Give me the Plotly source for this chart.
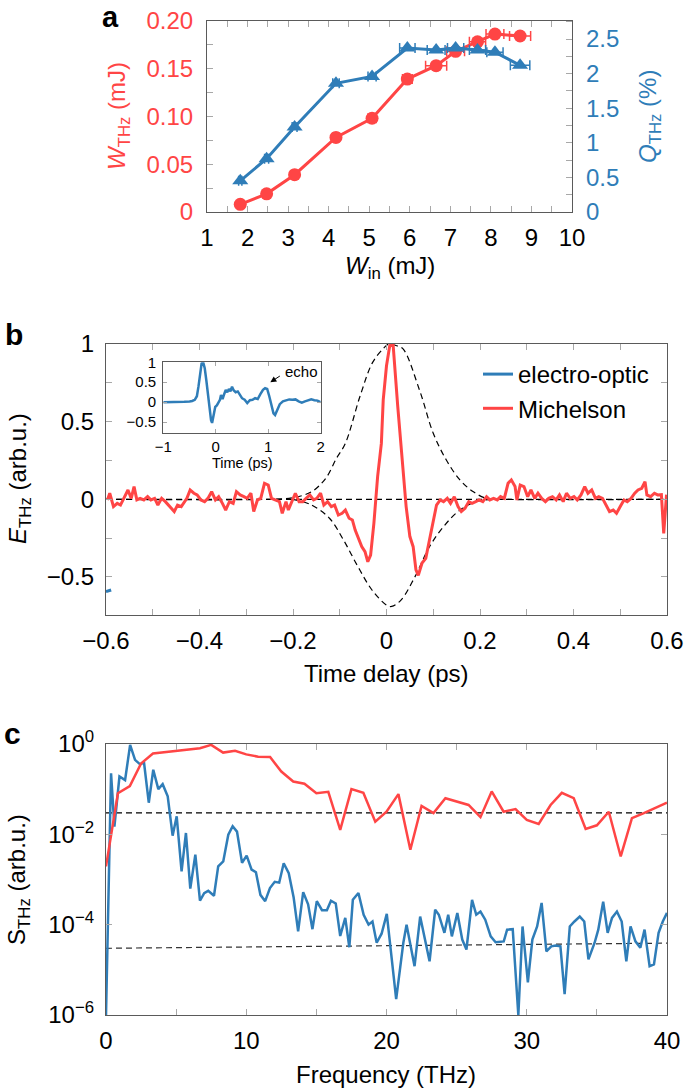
import plotly.graph_objects as go

# ---------------- Panel a data ----------------
W_in = [1.82, 2.47, 3.16, 4.18, 5.07, 5.94, 6.65, 7.13, 7.67, 8.10, 8.72]
W_thz = [0.008, 0.019, 0.039, 0.078, 0.098, 0.139, 0.153, 0.168, 0.178, 0.186, 0.184]
Q_thz = [0.45, 0.77, 1.23, 1.86, 1.96, 2.37, 2.34, 2.37, 2.34, 2.31, 2.12]
W_in_err_red = [0.04, 0.05, 0.06, 0.08, 0.10, 0.12, 0.26, 0.22, 0.20, 0.22, 0.26]
W_in_err_blue = [0.04, 0.05, 0.06, 0.08, 0.10, 0.19, 0.22, 0.20, 0.20, 0.20, 0.24]

# ---------------- Panel b data ----------------
t_mich = [-0.597, -0.592, -0.584, -0.576, -0.569, -0.561, -0.553, -0.546, -0.540, -0.534,
          -0.527, -0.519, -0.511, -0.504, -0.496, -0.489, -0.481, -0.473, -0.466, -0.454,
          -0.447, -0.439, -0.427, -0.420, -0.412, -0.405, -0.397, -0.389, -0.382, -0.374,
          -0.366, -0.359, -0.351, -0.344, -0.336, -0.328, -0.321, -0.313, -0.305, -0.298,
          -0.290, -0.284, -0.276, -0.269, -0.261, -0.253, -0.246, -0.238, -0.229, -0.223,
          -0.215, -0.210, -0.202, -0.195, -0.187, -0.179, -0.172, -0.164, -0.156, -0.149,
          -0.141, -0.134, -0.126, -0.118, -0.111, -0.103, -0.095, -0.088, -0.080, -0.073,
          -0.067, -0.061, -0.053, -0.046, -0.040, -0.034, -0.027, -0.019, -0.011, -0.007,
          0.000, 0.007, 0.014, 0.024, 0.032, 0.042, 0.050, 0.057, 0.063, 0.068,
          0.076, 0.084, 0.092, 0.099, 0.107, 0.115, 0.122, 0.130, 0.137, 0.145,
          0.153, 0.160, 0.168, 0.176, 0.183, 0.191, 0.198, 0.206, 0.214, 0.221,
          0.229, 0.237, 0.244, 0.252, 0.260, 0.267, 0.275, 0.279, 0.286, 0.294,
          0.302, 0.309, 0.317, 0.324, 0.332, 0.340, 0.347, 0.355, 0.363, 0.370,
          0.378, 0.385, 0.393, 0.401, 0.408, 0.416, 0.424, 0.431, 0.439, 0.447,
          0.454, 0.462, 0.469, 0.477, 0.485, 0.492, 0.500, 0.508, 0.515, 0.523,
          0.531, 0.538, 0.546, 0.553, 0.557, 0.565, 0.573, 0.580, 0.588, 0.593,
          0.599]
E_mich = [-0.004, 0.039, -0.047, -0.026, -0.037, 0.017, 0.060, 0.006, 0.082, -0.004,
          0.006, -0.004, 0.017, -0.004, 0.006, -0.037, 0.006, -0.015, -0.037, -0.079,
          -0.037, -0.047, 0.006, 0.060, 0.039, 0.028, -0.004, -0.015, 0.006, 0.049,
          -0.004, 0.017, -0.026, -0.069, -0.015, -0.026, 0.049, 0.028, 0.017, 0.006,
          0.039, -0.079, -0.004, 0.006, 0.103, 0.092, 0.006, -0.004, -0.015, -0.090,
          -0.015, -0.069, -0.015, 0.039, -0.015, -0.015, 0.006, 0.028, -0.004, 0.006,
          0.039, -0.037, -0.015, -0.047, -0.037, -0.101, -0.090, -0.069, -0.122, -0.133,
          -0.198, -0.241, -0.305, -0.337, -0.402, -0.359, -0.155, 0.146, 0.360, 0.640,
          0.860, 0.990, 1.000, 0.600, 0.300, -0.047, -0.240, -0.305, -0.455, -0.490,
          -0.410, -0.380, -0.260, -0.155, -0.037, -0.004, -0.015, 0.006, -0.026, 0.017,
          -0.047, -0.079, -0.058, -0.015, -0.026, -0.015, -0.004, -0.015, 0.017, -0.004,
          0.006, -0.004, 0.017, 0.006, 0.103, 0.125, 0.082, -0.004, 0.092, 0.082,
          0.017, 0.060, 0.006, 0.039, 0.006, -0.015, 0.006, 0.017, -0.004, 0.028,
          -0.015, 0.039, 0.006, 0.017, -0.004, 0.028, 0.082, 0.039, 0.060, 0.006,
          0.017, 0.006, -0.037, -0.079, -0.069, -0.090, -0.047, -0.004, -0.015, 0.006,
          0.039, 0.060, 0.071, 0.114, 0.028, 0.017, 0.039, 0.028, 0.030, -0.220,
          0.030]

t_eo_main = [-0.600, -0.589]
E_eo_main = [-0.595, -0.584]

t_env_up = [-0.600, -0.250, -0.200, -0.160, -0.130, -0.107, -0.088, -0.057, -0.030, -0.007,
            0.005, 0.020, 0.035, 0.071, 0.100, 0.128, 0.157, 0.185, 0.214, 0.250, 0.600]
E_env_up = [0.0, 0.0, 0.010, 0.049, 0.135, 0.264, 0.360, 0.660, 0.880, 0.970,
            1.000, 0.990, 0.970, 0.700, 0.425, 0.253, 0.125, 0.050, 0.006, 0.0, 0.0]
t_env_lo = [-0.200, -0.160, -0.122, -0.092, -0.061, -0.031, 0.000, 0.011, 0.031, 0.061,
            0.092, 0.122, 0.153, 0.191, 0.230]
E_env_lo = [0.0, -0.037, -0.122, -0.262, -0.434, -0.584, -0.681, -0.690, -0.649, -0.498,
            -0.305, -0.176, -0.079, -0.015, 0.0]

# inset (electro-optic waveform)
t_inset = [-1.0, -0.9, -0.8, -0.7, -0.6, -0.5, -0.45, -0.4, -0.36, -0.33,
           -0.30, -0.27, -0.24, -0.21, -0.18, -0.15, -0.12, -0.09, -0.07, -0.05,
           -0.03, -0.01, 0.02, 0.05, 0.08, 0.10, 0.13, 0.16, 0.19, 0.22,
           0.25, 0.28, 0.31, 0.34, 0.38, 0.42, 0.46, 0.50, 0.55, 0.60,
           0.65, 0.70, 0.75, 0.80, 0.85, 0.90, 0.94, 0.98, 1.02, 1.06,
           1.10, 1.13, 1.17, 1.22, 1.28, 1.34, 1.40, 1.46, 1.52, 1.58,
           1.64, 1.70, 1.76, 1.82, 1.88, 1.94, 2.0]
E_inset = [0.0, 0.0, 0.0, 0.01, 0.01, 0.02, 0.03, 0.06, 0.15, 0.39,
           0.70, 0.97, 1.0, 0.85, 0.55, 0.20, -0.15, -0.45, -0.52, -0.35,
           -0.22, -0.12, -0.08, -0.02, 0.06, 0.18, 0.08, 0.20, 0.31, 0.25,
           0.33, 0.27, 0.39, 0.30, 0.25, 0.27, 0.18, 0.10, 0.06, -0.02,
           0.05, 0.06, 0.10, 0.08, 0.20, 0.31, 0.35, 0.33, 0.15, -0.10,
           -0.28, -0.32, -0.20, -0.05, 0.02, 0.05, 0.07, 0.06, 0.07, 0.02,
           -0.01, 0.02, 0.04, 0.07, 0.05, 0.04, 0.0]

# ---------------- Panel c data (log10 of S_THz) ----------------
f_mich = [0, 0.45, 0.85, 1.7, 2.5, 3.35, 5.0, 6.7, 7.5, 8.35,
          9.2, 10.0, 10.85, 11.7, 12.5, 13.35, 14.15, 15.0, 15.85, 16.7,
          17.5, 18.35, 19.2, 20.0, 20.85, 21.7, 22.5, 23.35, 24.2, 25.0,
          25.85, 26.7, 27.5, 28.35, 29.2, 30.0, 30.85, 31.7, 32.5, 33.35,
          34.2, 35.0, 35.85, 36.7, 37.5, 38.35, 39.2, 40.0]
logS_mich = [-2.71, -1.8, -1.09, -0.93, -0.43, -0.21, -0.15, -0.095, -0.02, -0.19,
             -0.15, -0.23, -0.28, -0.29, -0.61, -0.83, -0.88, -1.09, -1.06, -1.90,
             -1.0, -1.08, -1.72, -1.50, -1.11, -2.34, -1.37, -1.53, -1.2, -1.28,
             -1.35, -1.62, -1.05, -1.50, -1.44, -1.68, -1.77, -1.35, -1.08, -1.2,
             -1.88, -1.80, -1.50, -2.49, -1.64, -1.53, -1.42, -1.30]
f_eo = [0, 0.36, 0.6, 0.96, 1.36, 1.72, 2.07, 2.43, 2.71, 3.05,
        3.37, 3.73, 4.04, 4.4, 4.75, 5.04, 5.39, 5.7, 6.01, 6.37,
        6.7, 7.0, 7.29, 7.7, 8.0, 8.36, 8.72, 9.03, 9.34, 9.7,
        10.03, 10.38, 10.69, 11.01, 11.35, 11.69, 12.03, 12.35, 12.67, 13.03,
        13.38, 13.7, 14.06, 14.41, 14.72, 15.03, 15.4, 15.75, 16.04, 16.38,
        16.7, 17.06, 17.35, 17.6, 18.0, 18.37, 18.72, 19.0, 19.3, 19.65,
        20.02, 20.69, 21.2, 21.43, 22.0, 22.4, 23.07, 23.47, 23.73, 24.13,
        24.4, 24.66, 25.05, 25.4, 25.7, 26.1, 26.4, 26.7, 27.04, 27.43,
        27.78, 28.1, 28.36, 28.6, 29.0, 29.4, 29.7, 30.08, 30.4, 30.74,
        31.06, 31.4, 31.75, 32.06, 32.4, 32.7, 33.07, 33.4, 33.78, 34.1,
        34.4, 34.84, 35.1, 35.45, 35.77, 36.08, 36.43, 36.77, 37.1, 37.4,
        37.75, 38.1, 38.4, 38.76, 39.07, 39.4, 39.7, 40.0]
logS_eo = [-6.0, -0.65, -1.83, -0.72, -0.8, -0.02, -0.35, -0.45, -0.41, -1.3,
           -0.57, -1.0, -0.89, -1.16, -2.03, -1.6, -2.82, -1.97, -3.2, -2.45,
           -3.47, -3.3, -3.25, -3.36, -2.71, -2.6, -2.01, -1.82, -1.94, -2.63,
           -2.47, -2.78, -2.84, -3.34, -3.48, -3.19, -3.05, -3.07, -2.64, -2.86,
           -3.4, -4.15, -3.28, -3.55, -4.1, -3.48, -3.68, -3.68, -3.47, -3.53,
           -4.25, -3.85, -4.5, -3.45, -3.3, -3.78, -4.0, -3.93, -4.4, -4.2,
           -3.76, -5.65, -4.40, -4.0, -4.92, -3.82, -4.81, -3.67, -3.78, -4.18,
           -3.78, -4.26, -3.74, -4.33, -4.55, -3.45, -3.78, -3.71, -3.89, -4.26,
           -4.39, -4.37, -4.37, -4.11, -4.1, -6.0, -4.04, -5.28, -4.33, -4.04,
           -3.52, -4.59, -4.48, -4.46, -4.48, -5.54, -4.04, -3.93, -3.82, -3.93,
           -4.77, -4.4, -4.11, -3.49, -4.18, -3.85, -3.71, -3.93, -4.81, -4.04,
           -4.37, -4.51, -4.11, -4.92, -4.88, -4.18, -3.93, -3.74]
f_floor = [0, 40]
S_floor_mich = [3.0e-2, 3.0e-2]
S_floor_eo = [3.0e-5, 3.9e-5]

S_mich = [10 ** v for v in logS_mich]
S_eo = [10 ** v for v in logS_eo]

# ---------------- styling ----------------
FONT = "Liberation Sans, Arial, Helvetica, sans-serif"
RED = "#FF4545"
BLUE = "#2F7DB8"
AXC = "#5a5a5a"
TKC = "#a8a8a8"
W, H = 685, 1089


def px_x(x):
    return x / W


def px_y(y):
    return 1 - y / H


def axis(**kw):
    d = dict(showline=True, linecolor=AXC, linewidth=1.2, ticks="inside", ticklen=6,
             tickcolor=TKC, tickwidth=1, showgrid=False, zeroline=False, automargin=False,
             tickfont=dict(family=FONT, size=24, color="black"))
    d.update(kw)
    return d


fig = go.Figure()

# Panel a
fig.add_trace(go.Scatter(x=W_in, y=W_thz, mode="lines+markers", xaxis="x", yaxis="y",
                         line=dict(color=RED, width=3), marker=dict(color=RED, size=13, symbol="circle"),
                         error_x=dict(type="data", array=W_in_err_red, color=RED, thickness=1.5, width=5),
                         showlegend=False))
fig.add_trace(go.Scatter(x=W_in, y=Q_thz, mode="lines+markers", xaxis="x", yaxis="y2",
                         line=dict(color=BLUE, width=3),
                         marker=dict(color=BLUE, size=14, symbol="triangle-up"),
                         error_x=dict(type="data", array=W_in_err_blue, color=BLUE, thickness=1.5, width=5),
                         showlegend=False))

# Panel b
fig.add_trace(go.Scatter(x=[-0.6, 0.6], y=[0, 0], mode="lines", xaxis="x2", yaxis="y3",
                         line=dict(color="black", width=1.2, dash="6px,4px"), showlegend=False,
                         hoverinfo="skip"))
fig.add_trace(go.Scatter(x=t_env_up, y=E_env_up, mode="lines", xaxis="x2", yaxis="y3",
                         line=dict(color="black", width=1.2, dash="6px,4px", shape="spline"),
                         showlegend=False))
fig.add_trace(go.Scatter(x=t_env_lo, y=E_env_lo, mode="lines", xaxis="x2", yaxis="y3",
                         line=dict(color="black", width=1.2, dash="6px,4px", shape="spline"),
                         showlegend=False))
fig.add_trace(go.Scatter(x=t_eo_main, y=E_eo_main, mode="lines", xaxis="x2", yaxis="y3",
                         name="electro-optic", line=dict(color=BLUE, width=3)))
fig.add_trace(go.Scatter(x=t_mich, y=E_mich, mode="lines", xaxis="x2", yaxis="y3",
                         name="Michelson", line=dict(color=RED, width=3)))

# inset
fig.add_trace(go.Scatter(x=t_inset, y=E_inset, mode="lines", xaxis="x3", yaxis="y4",
                         line=dict(color=BLUE, width=2.5), showlegend=False))

# Panel c
fig.add_trace(go.Scatter(x=f_floor, y=S_floor_mich, mode="lines", xaxis="x4", yaxis="y5",
                         line=dict(color="black", width=1.2, dash="6px,4px"), showlegend=False))
fig.add_trace(go.Scatter(x=f_floor, y=S_floor_eo, mode="lines", xaxis="x4", yaxis="y5",
                         line=dict(color="#333333", width=1.2, dash="6px,4px"), showlegend=False))
fig.add_trace(go.Scatter(x=f_eo, y=S_eo, mode="lines", xaxis="x4", yaxis="y5",
                         line=dict(color=BLUE, width=2.5), showlegend=False))
fig.add_trace(go.Scatter(x=f_mich, y=S_mich, mode="lines", xaxis="x4", yaxis="y5",
                         line=dict(color=RED, width=2.5), showlegend=False))

layout = dict(
    width=W, height=H, margin=dict(l=0, r=0, t=0, b=0, autoexpand=False),
    paper_bgcolor="white", plot_bgcolor="rgba(0,0,0,0)",
    font=dict(family=FONT, size=24, color="black"),
    # panel a
    xaxis=axis(domain=[px_x(207), px_x(572)], anchor="y", range=[1, 10], dtick=1, tick0=1,
               mirror="ticks", ticklabelstandoff=4,
               minor=dict(dtick=0.5, tick0=1, ticks="inside", ticklen=6, tickcolor=TKC)),
    yaxis=axis(domain=[px_y(212), px_y(20.7)], anchor="x", range=[0, 0.2],
               tickvals=[0, 0.05, 0.1, 0.15, 0.2], ticktext=["0", "0.05", "0.10", "0.15", "0.20"],
               tickfont=dict(family=FONT, size=24, color=RED), ticklabelstandoff=8,
               minor=dict(tickvals=[0.025, 0.075, 0.125, 0.175], ticks="inside", ticklen=6,
                          tickcolor=TKC)),
    yaxis2=axis(overlaying="y", side="right", anchor="x", range=[0, 2.765], dtick=0.5, tick0=0,
                tickfont=dict(family=FONT, size=24, color=BLUE), ticklabelstandoff=8,
                minor=dict(dtick=0.25, tick0=0, ticks="inside", ticklen=6, tickcolor=TKC)),
    # panel b
    xaxis2=axis(domain=[px_x(106), px_x(667)], anchor="y3", range=[-0.6, 0.6], dtick=0.2, tick0=0,
                mirror="ticks", ticklabelstandoff=4,
                minor=dict(dtick=0.1, tick0=0, ticks="inside", ticklen=6, tickcolor=TKC)),
    yaxis3=axis(domain=[px_y(615), px_y(344)], anchor="x2", range=[-0.745, 1.0], dtick=0.5, tick0=0,
                mirror="ticks", ticklabelstandoff=6,
                minor=dict(dtick=0.25, tick0=0, ticks="inside", ticklen=6, tickcolor=TKC)),
    # inset
    xaxis3=axis(domain=[px_x(163.3), px_x(320.7)], anchor="y4", range=[-1, 2], dtick=1, tick0=0,
                mirror="ticks", ticklen=4, tickfont=dict(family=FONT, size=15, color="black"),
                ticklabelstandoff=0),
    yaxis4=axis(domain=[px_y(433.3), px_y(362.3)], anchor="x3", range=[-0.78, 1.0], dtick=0.5, tick0=0,
                mirror="ticks", ticklen=4, tickfont=dict(family=FONT, size=15, color="black"),
                ticklabelstandoff=3),
    # panel c
    xaxis4=axis(domain=[px_x(106), px_x(667)], anchor="y5", range=[0, 40], dtick=10, tick0=0,
                mirror="ticks", ticklabelstandoff=4,
                minor=dict(dtick=5, tick0=0, ticks="inside", ticklen=6, tickcolor=TKC)),
    yaxis5=axis(domain=[px_y(1015), px_y(744)], anchor="x4", type="log", range=[-6, 0],
                tickvals=[1e-6, 1e-4, 1e-2, 1],
                ticktext=["10<sup>\u22126</sup>", "10<sup>\u22124</sup>", "10<sup>\u22122</sup>",
                          "10<sup>0</sup>"],
                mirror="ticks", ticklabelstandoff=6),
    legend=dict(x=px_x(478), y=px_y(352), xanchor="left", yanchor="top",
                font=dict(family=FONT, size=24, color="black"), bgcolor="rgba(0,0,0,0)",
                itemwidth=30, tracegroupgap=0),
)
fig.update_layout(**layout)


def ann(text, x, y, size=24, color="black", angle=0, bold=False, xanchor="center", yanchor="middle"):
    if bold:
        text = "<b>" + text + "</b>"
    return dict(text=text, x=px_x(x), y=px_y(y), xref="paper", yref="paper", showarrow=False,
                textangle=angle, xanchor=xanchor, yanchor=yanchor, borderpad=0,
                font=dict(family=FONT, size=size, color=color))


annotations = [
    ann("a", 110, 0, size=29, bold=True, yanchor="top"),
    ann("b", 14, 334, size=30, bold=True),
    ann("c", 12, 733, size=30, bold=True),
    ann("<i>W</i><sub>in</sub> (mJ)", 390, 268),
    ann("<i>W</i><sub>THz</sub> (mJ)", 118, 116, color=RED, angle=-90),
    ann("<i>Q</i><sub>THz</sub> (%)", 650, 117, color=BLUE, angle=-90),
    ann("Time delay (ps)", 386, 673),
    ann("<i>E</i><sub>THz</sub> (arb.u.)", 20, 479, angle=-90),
    ann("Time (ps)", 242, 463, size=14.5),
    ann("Frequency (THz)", 386, 1074),
    ann("S<sub>THz</sub> (arb.u.)", 18, 880, angle=-90),
    dict(text="echo", x=1.28, y=0.76, xref="x3", yref="y4", showarrow=False, xanchor="left",
         font=dict(family=FONT, size=15, color="black")),
    dict(text="", x=1.04, y=0.50, xref="x3", yref="y4", ax=1.25, ay=0.68, axref="x3", ayref="y4",
         showarrow=True, arrowhead=2, arrowsize=1.2, arrowwidth=1, arrowcolor="black", standoff=0),
]
fig.update_layout(annotations=annotations)

fig.write_html("out.html", config={"displayModeBar": False},
               post_script="document.body.style.margin='0';")
